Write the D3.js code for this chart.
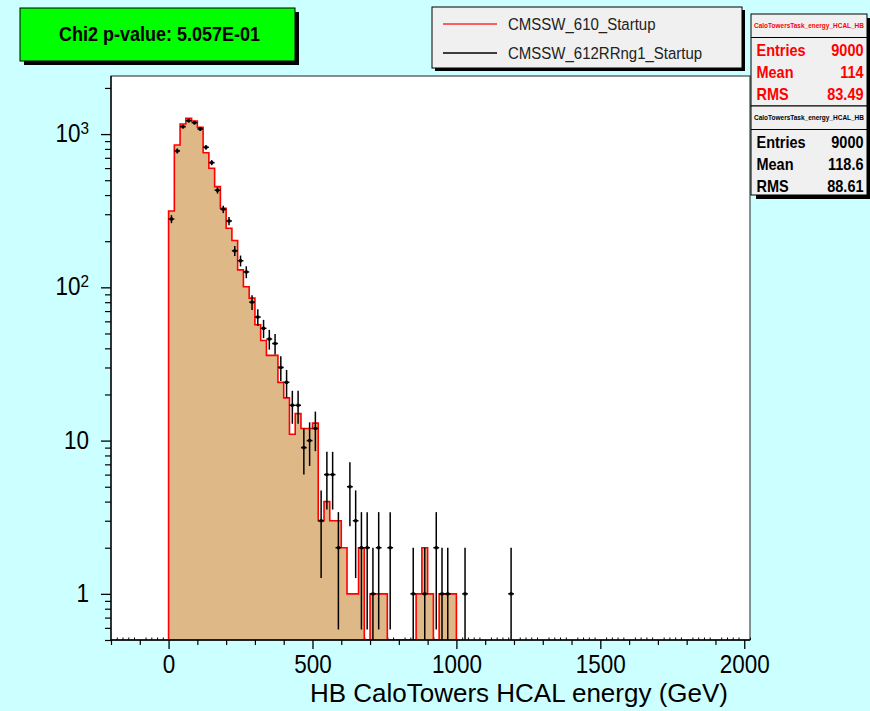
<!DOCTYPE html>
<html>
<head>
<meta charset="utf-8">
<script src="https://cdn.jsdelivr.net/npm/d3@7"></script>
<style>
  html, body { margin: 0; padding: 0; background: #ccffff; }
  svg { display: block; font-family: "Liberation Sans", Arial, Helvetica, sans-serif; }
</style>
</head>
<body>
<svg id="chart" width="870" height="711"></svg>
<script>
// ---- data -------------------------------------------------------------
// Both histograms use 20 GeV bins starting at 0 GeV.
const binStart = 0;
const binWidth = 20;

// CMSSW_610_Startup (filled, red outline)
const refCounts = [
  315, 849, 1164, 1268, 1218, 1107, 756, 598, 454, 328,
  243, 202, 130, 101, 85, 57, 45, 36, 36, 24,
  19, 11, 15, 12, 12, 13, 3, 4, 3, 3,
  2, 1, 1, 2, 0, 1, 1, 1, 0, 0,
  0, 0, 0, 1, 2, 1, 0, 1, 1, 1
];

// CMSSW_612RRng1_Startup (points with error bars)
const newCounts = [
  279, 776, 1118, 1223, 1187, 1080, 820, 651, 430, 323,
  271, 173, 149, 126, 80, 64, 54, 46, 43, 30,
  24, 17, 17, 9, 10, 12, 3, 6, 6, 2,
  0, 5, 3, 2, 2, 1, 2, 0, 2, 0,
  0, 0, 1, 0, 1, 0, 2, 1, 1, 0,
  0, 1, 0, 0, 0, 0, 0, 0, 0, 1
];

const seriesNames = ["CMSSW_610_Startup", "CMSSW_612RRng1_Startup"];
const seriesColors = ["#ff0000", "#000000"];

const histName = "CaloTowersTask_energy_HCAL_HB";
const statLabels = ["Entries", "Mean", "RMS"];
const refStats = ["9000", "114", "83.49"];
const newStats = ["9000", "118.6", "88.61"];

const chi2Label = "Chi2 p-value: 5.057E-01";
const xTitle = "HB CaloTowers HCAL energy (GeV)";

const xDomain = [-200, 2020];
const yDomain = [0.5, 2393];
const xTickValues = [0, 500, 1000, 1500, 2000];
const yTickValues = [1, 10, 100, 1000];

// ---- layout -----------------------------------------------------------
const frame = { left: 111, right: 750, top: 76, bottom: 640 };
const fillColor = "#deb887";
const paveFill = "#f0f0f0";
const textStretch = 1.12;

const svg = d3.select("#chart");
const x = d3.scaleLinear().domain(xDomain).range([frame.left, frame.right]);
const y = d3.scaleLog().domain(yDomain).range([frame.bottom, frame.top]);

svg.append("defs").append("clipPath").attr("id", "frameClip")
  .append("rect")
  .attr("x", frame.left).attr("y", frame.top)
  .attr("width", frame.right - frame.left)
  .attr("height", frame.bottom - frame.top);

// plot area
svg.append("rect")
  .attr("x", frame.left).attr("y", frame.top)
  .attr("width", frame.right - frame.left)
  .attr("height", frame.bottom - frame.top)
  .attr("fill", "#ffffff");

// fine x ticks every 20 GeV, pointing into the frame
const fineTicks = d3.range(xDomain[0], xDomain[1] + 1, 20).filter(v => v % 100 !== 0);
svg.append("g")
  .attr("transform", `translate(0,${frame.bottom})`)
  .call(d3.axisTop(x).tickValues(fineTicks).tickSize(2.5).tickFormat(""))
  .call(g => g.select(".domain").remove())
  .call(g => g.selectAll("line").attr("stroke", "#000").attr("stroke-width", 1));

// ---- reference histogram: filled steps --------------------------------
function stepPoints(counts) {
  const floorY = y(yDomain[0]);
  const pts = [[x(binStart), floorY]];
  counts.forEach((c, i) => {
    const lo = binStart + i * binWidth;
    const hi = lo + binWidth;
    const yy = c > 0 ? y(c) : floorY;
    pts.push([x(lo), yy], [x(hi), yy]);
  });
  pts.push([x(binStart + counts.length * binWidth), floorY]);
  return pts;
}

const histG = svg.append("g").attr("clip-path", "url(#frameClip)");
const refPts = stepPoints(refCounts);
histG.append("path")
  .attr("d", d3.line()(refPts) + "Z")
  .attr("fill", fillColor)
  .attr("stroke", "none");
histG.append("path")
  .attr("d", d3.line()(refPts))
  .attr("fill", "none")
  .attr("stroke", seriesColors[0])
  .attr("stroke-width", 1.6)
  .attr("stroke-linejoin", "miter");

// ---- comparison histogram: points with statistical errors --------------
const pointData = newCounts
  .map((c, i) => ({ c, lo: binStart + i * binWidth, hi: binStart + (i + 1) * binWidth }))
  .filter(d => d.c > 0);

const errG = histG.append("g")
  .attr("stroke", seriesColors[1])
  .attr("stroke-width", 1.5);

errG.selectAll("line.v").data(pointData).join("line")
  .attr("class", "v")
  .attr("x1", d => x((d.lo + d.hi) / 2))
  .attr("x2", d => x((d.lo + d.hi) / 2))
  .attr("y1", d => y(d.c + Math.sqrt(d.c)))
  .attr("y2", d => {
    const low = d.c - Math.sqrt(d.c);
    return low > yDomain[0] ? y(low) : frame.bottom;
  });

errG.selectAll("line.h").data(pointData).join("line")
  .attr("class", "h")
  .attr("x1", d => x(d.lo))
  .attr("x2", d => x(d.hi))
  .attr("y1", d => y(d.c))
  .attr("y2", d => y(d.c));

histG.selectAll("rect.mk").data(pointData).join("rect")
  .attr("class", "mk")
  .attr("x", d => x((d.lo + d.hi) / 2) - 1.5)
  .attr("y", d => y(d.c) - 1.5)
  .attr("width", 3).attr("height", 3)
  .attr("fill", seriesColors[1]);

// ---- frame and axes ---------------------------------------------------
svg.append("rect")
  .attr("x", frame.left).attr("y", frame.top)
  .attr("width", frame.right - frame.left)
  .attr("height", frame.bottom - frame.top)
  .attr("fill", "none")
  .attr("stroke", "#222")
  .attr("stroke-width", 1);

// x axis: 100 GeV ticks and labelled 500 GeV ticks, pointing down
const midTicks = d3.range(xDomain[0], xDomain[1] + 1, 100).filter(v => v % 500 !== 0);
svg.append("g")
  .attr("transform", `translate(0,${frame.bottom})`)
  .call(d3.axisBottom(x).tickValues(midTicks).tickSize(5).tickFormat(""))
  .call(g => g.select(".domain").remove())
  .call(g => g.selectAll("line").attr("stroke", "#000").attr("stroke-width", 1.2));

const xAxisG = svg.append("g")
  .attr("transform", `translate(0,${frame.bottom})`)
  .call(d3.axisBottom(x).tickValues(xTickValues).tickSize(9).tickFormat(d3.format("d")));
xAxisG.select(".domain").remove();
xAxisG.selectAll("line").attr("stroke", "#000").attr("stroke-width", 1.3);
xAxisG.selectAll("text")
  .attr("y", 0).attr("dy", 0)
  .attr("transform", `translate(0,33) scale(1,${textStretch})`)
  .attr("font-size", 22.5)
  .attr("font-family", "Liberation Sans, Arial, sans-serif")
  .attr("fill", "#000");

svg.append("line")
  .attr("x1", frame.left).attr("x2", frame.right)
  .attr("y1", frame.bottom).attr("y2", frame.bottom)
  .attr("stroke", "#000").attr("stroke-width", 1.3);

// y axis: decade ticks plus 2..9 sub-ticks
const [yLo, yHi] = yDomain;
const minorY = [];
for (let e = Math.floor(Math.log10(yLo)); e <= Math.ceil(Math.log10(yHi)); e++) {
  for (let k = 2; k <= 9; k++) {
    const v = k * Math.pow(10, e);
    if (v >= yLo && v <= yHi) minorY.push(v);
  }
}
svg.append("g")
  .attr("transform", `translate(${frame.left},0)`)
  .call(d3.axisLeft(y).tickValues(minorY).tickSize(6).tickFormat(""))
  .call(g => g.select(".domain").remove())
  .call(g => g.selectAll("line").attr("stroke", "#000").attr("stroke-width", 1.2));

const yAxisG = svg.append("g")
  .attr("transform", `translate(${frame.left},0)`)
  .call(d3.axisLeft(y).tickValues(yTickValues).tickSize(10).tickFormat(""));
yAxisG.select(".domain").remove();
yAxisG.selectAll("line").attr("stroke", "#000").attr("stroke-width", 1.3);

svg.append("line")
  .attr("x1", frame.left).attr("x2", frame.left)
  .attr("y1", frame.top).attr("y2", frame.bottom)
  .attr("stroke", "#000").attr("stroke-width", 1.3);

// decade labels: 1, 10, 10^2, 10^3
const yLabelG = svg.append("g").attr("font-size", 22.5).attr("fill", "#000");
yTickValues.forEach(v => {
  const exp = Math.round(Math.log10(v));
  const t = yLabelG.append("text")
    .attr("text-anchor", "end")
    .attr("transform", `translate(89,${y(v) + 8}) scale(1,${textStretch})`);
  if (exp <= 1) {
    t.text(String(v));
  } else {
    t.append("tspan").text("10");
    t.append("tspan").attr("dy", "-0.5em").attr("font-size", "0.68em").text(String(exp));
  }
});

// x axis title
svg.append("text")
  .attr("x", 728).attr("y", 702)
  .attr("text-anchor", "end")
  .attr("font-size", 26)
  .attr("fill", "#000")
  .text(xTitle);

// ---- chi2 box ---------------------------------------------------------
const chi2Box = { x: 20, y: 8, w: 275, h: 53 };
svg.append("rect")
  .attr("x", chi2Box.x + 4).attr("y", chi2Box.y + 4)
  .attr("width", chi2Box.w).attr("height", chi2Box.h)
  .attr("fill", "#000");
svg.append("rect")
  .attr("x", chi2Box.x).attr("y", chi2Box.y)
  .attr("width", chi2Box.w).attr("height", chi2Box.h)
  .attr("fill", "#00ff00").attr("stroke", "#000").attr("stroke-width", 1);
svg.append("text")
  .attr("text-anchor", "middle")
  .attr("transform", `translate(${chi2Box.x + chi2Box.w / 2 + 2},${chi2Box.y + 33}) scale(1,${textStretch})`)
  .attr("font-size", 18).attr("font-weight", "bold")
  .attr("fill", "#000")
  .text(chi2Label);

// ---- legend -----------------------------------------------------------
const leg = { x: 432, y: 7, w: 310, h: 61 };
svg.append("rect")
  .attr("x", leg.x + 3).attr("y", leg.y + 3)
  .attr("width", leg.w).attr("height", leg.h)
  .attr("fill", "#000");
svg.append("rect")
  .attr("x", leg.x).attr("y", leg.y)
  .attr("width", leg.w).attr("height", leg.h)
  .attr("fill", paveFill).attr("stroke", "#000").attr("stroke-width", 1);
seriesNames.forEach((name, i) => {
  const cy = leg.y + 17 + i * 29;
  svg.append("line")
    .attr("x1", leg.x + 11).attr("x2", leg.x + 65)
    .attr("y1", cy).attr("y2", cy)
    .attr("stroke", seriesColors[i])
    .attr("stroke-width", i === 0 ? 1.6 : 1.3)
    .attr("opacity", i === 0 ? 0.8 : 1);
  svg.append("text")
    .attr("transform", `translate(${leg.x + 76},${cy + 6}) scale(1,${textStretch + 0.04})`)
    .attr("font-size", 15)
    .attr("fill", "#222")
    .text(name);
});

// ---- statistics boxes -------------------------------------------------
function statsBox(top, height, color, values) {
  const bx = 751, bw = 116, titleH = 23.5;
  svg.append("rect")
    .attr("x", bx + 5).attr("y", top + 4)
    .attr("width", bw).attr("height", height)
    .attr("fill", "#000");
  svg.append("rect")
    .attr("x", bx).attr("y", top)
    .attr("width", bw).attr("height", height)
    .attr("fill", paveFill).attr("stroke", "#000").attr("stroke-width", 1);
  svg.append("line")
    .attr("x1", bx).attr("x2", bx + bw)
    .attr("y1", top + titleH).attr("y2", top + titleH)
    .attr("stroke", "#000").attr("stroke-width", 1);
  svg.append("text")
    .attr("x", bx + bw / 2).attr("y", top + titleH / 2 + 2.5)
    .attr("text-anchor", "middle")
    .attr("font-size", 6.3).attr("font-weight", "bold")
    .attr("textLength", bw - 6).attr("lengthAdjust", "spacingAndGlyphs")
    .attr("fill", color)
    .text(histName);
  statLabels.forEach((lab, i) => {
    const cy = top + titleH + 13 + i * 22.2;
    svg.append("text")
      .attr("transform", `translate(${bx + 5.5},${cy + 5.5}) scale(1,${textStretch})`)
      .attr("font-size", 14.5).attr("font-weight", "bold")
      .attr("fill", color)
      .text(lab);
    svg.append("text")
      .attr("transform", `translate(${bx + bw - 3.5},${cy + 5.5}) scale(1,${textStretch})`)
      .attr("text-anchor", "end")
      .attr("font-size", 14.5).attr("font-weight", "bold")
      .attr("fill", color)
      .text(values[i]);
  });
}
statsBox(14, 92, "#ff0000", refStats);
statsBox(106, 89, "#000000", newStats);
</script>
</body>
</html>
